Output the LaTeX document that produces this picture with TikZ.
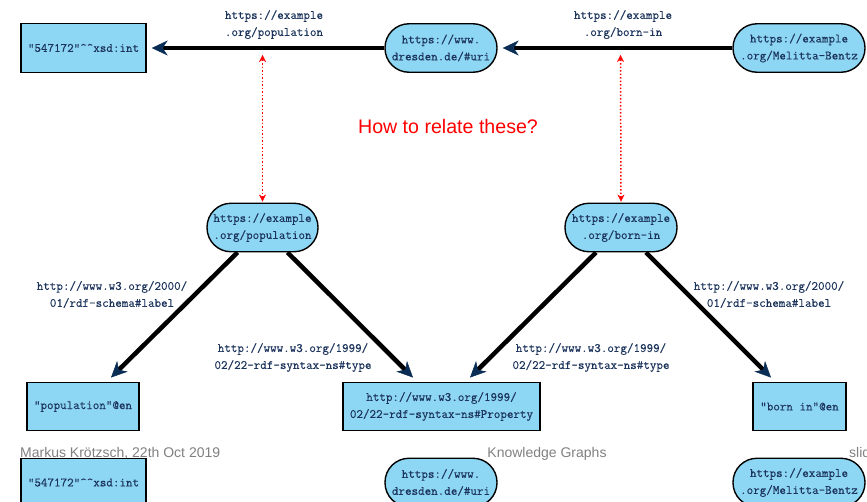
\documentclass[tikz,border=0pt]{standalone}
\usepackage{fontspec}
\setsansfont{Liberation Sans}
\newfontfamily\nodemono{Latin Modern Mono}[FakeBold=0.3]
\usetikzlibrary{arrows.meta}
\definecolor{nodefill}{RGB}{141,215,245}
\definecolor{txtblue}{RGB}{28,52,92}
\definecolor{tipblue}{RGB}{10,45,85}
\definecolor{footgray}{RGB}{128,128,128}
\begin{document}
\begin{tikzpicture}[x=1pt,y=-1pt,
 base/.style={draw=black, line width=1.4pt, fill=nodefill, text=txtblue,
   font=\fontsize{12.7}{17}\selectfont\nodemono, align=center, inner sep=0pt, minimum height=48.5pt},
 lit/.style={base, rectangle},
 res/.style={base, rounded corners=24pt},
 edge/.style={line width=4.5pt, -{Stealth[length=16pt,width=15pt,inset=5pt,line width=0.5pt,color=tipblue]}},
 elabel/.style={text=txtblue, font=\fontsize{12.7}{17}\selectfont\nodemono, align=center, inner sep=0pt},
 ask/.style={red, dotted, line width=1.5pt, {Stealth[length=7pt,width=7pt,line width=0.3pt]}-{Stealth[length=7pt,width=7pt,line width=0.3pt]}},
 foot/.style={text=footgray, font=\fontsize{14}{16}\selectfont\sffamily, inner sep=0pt}
]
\useasboundingbox (0,0) rectangle (867,501);
\clip (0,0) rectangle (867,501);

% top row
\node[lit, minimum width=125pt] (lit) at (83.5,48) {"547172"\textasciicircum\textasciicircum xsd:int};
\node[res, minimum width=112pt] (dres) at (441,48) {https://www.\\dresden.de/\#uri};
\node[res, minimum width=132pt] (mel) at (799,48) {https://example\\.org/Melitta-Bentz};

\draw[edge] (dres.west) -- ([xshift=5pt]lit.east);
\draw[edge] (mel.west) -- ([xshift=5pt]dres.east);
\node[elabel] (l1) at (274,24.5) {https://example\\.org/population};
\node[elabel] (l2) at (623,24.5) {https://example\\.org/born-in};

% question
\node[text=red, font=\fontsize{19.6}{22}\selectfont\sffamily, inner sep=0pt] (q) at (448,126) {How to relate these?};

% middle row
\node[res, minimum width=111pt] (pop) at (262.5,227.5) {https://example\\.org/population};
\node[res, minimum width=112pt] (born) at (621,227.5) {https://example\\.org/born-in};

\coordinate (qa) at (262.5,55);
\coordinate (qb) at (620.5,55);
\draw[ask] (qa) -- ([yshift=1pt]pop.north);
\draw[ask] (qb) -- ([yshift=1pt]born.north);

% bottom row
\node[lit, minimum width=112pt] (popen) at (83,406.5) {"population"@en};
\node[lit, minimum width=197pt] (prop) at (441.5,406.5) {http://www.w3.org/1999/\\02/22-rdf-syntax-ns\#Property};
\node[lit, minimum width=93pt] (bornen) at (799.5,406.5) {"born in"@en};

\draw[edge] ([xshift=-25pt]pop.south) -- ([xshift=28pt,yshift=4pt]popen.north);
\draw[edge] ([xshift=25pt]pop.south) -- ([xshift=-28.5pt,yshift=4pt]prop.north);
\draw[edge] ([xshift=-25pt]born.south) -- ([xshift=28.5pt,yshift=4pt]prop.north);
\draw[edge] ([xshift=25pt]born.south) -- ([xshift=-28.5pt,yshift=4pt]bornen.north);

\node[elabel] (l3) at (112,294.5) {http://www.w3.org/2000/\\01/rdf-schema\#label};
\node[elabel] (l4) at (769,294.5) {http://www.w3.org/2000/\\01/rdf-schema\#label};
\node[elabel] (l5) at (293,357.5) {http://www.w3.org/1999/\\02/22-rdf-syntax-ns\#type};
\node[elabel] (l6) at (591,357.5) {http://www.w3.org/1999/\\02/22-rdf-syntax-ns\#type};

% footer
\node[foot, anchor=base west] (f1) at (20,457) {Markus Krötzsch, 22th Oct 2019};
\node[foot, anchor=base] (f2) at (547,457) {Knowledge Graphs};
\node[foot, anchor=base west] (f3) at (849,457) {slide};

% repeated row at the bottom edge
\node[lit, minimum width=125pt] (litb) at (83.5,482.5) {"547172"\textasciicircum\textasciicircum xsd:int};
\node[res, minimum width=112pt] (dresb) at (441,482.5) {https://www.\\dresden.de/\#uri};
\node[res, minimum width=132pt] (melb) at (799,482.5) {https://example\\.org/Melitta-Bentz};
\end{tikzpicture}
\end{document}
